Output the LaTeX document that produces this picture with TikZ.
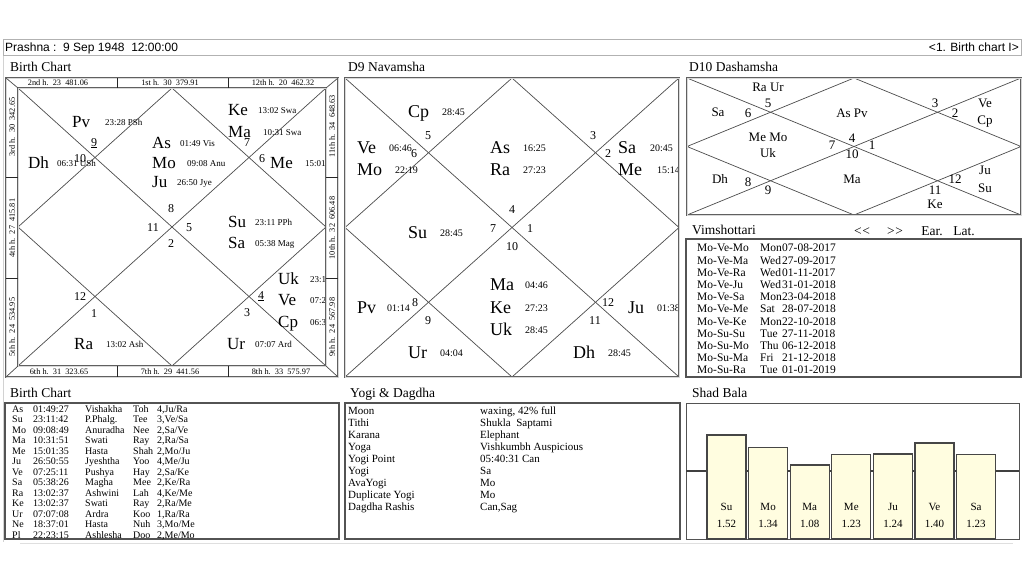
\documentclass[tikz,border=0pt]{standalone}
\usepackage{fontspec}
\setmainfont{Liberation Serif}
\newfontfamily\uisans{Liberation Sans}
\tikzset{
 txt/.style={inner sep=0pt, text depth=0pt},
 ttl/.style={txt, anchor=west, font=\fontsize{13.5}{14}\selectfont, text height=8.9pt},
 bpl/.style={txt, anchor=west, font=\fontsize{17}{17}\selectfont, text height=11.2pt},
 bdt/.style={txt, anchor=west, font=\fontsize{9}{9}\selectfont, text height=6pt},
 hno/.style={txt, font=\fontsize{12}{12}\selectfont, text height=8pt},
 dpl/.style={txt, anchor=west, font=\fontsize{18}{18}\selectfont, text height=11.9pt},
 ddt/.style={txt, anchor=west, font=\fontsize{10}{10}\selectfont, text height=6.7pt},
 tpl/.style={txt, font=\fontsize{13}{13}\selectfont, text height=8.6pt},
 strip/.style={txt, font=\fontsize{8.3}{8.3}\selectfont, text height=5.6pt},
 tbl/.style={txt, anchor=west, font=\fontsize{10}{10}\selectfont, text height=6.6pt},
 vim/.style={txt, anchor=west, font=\fontsize{11.5}{11.5}\selectfont, text height=7.6pt},
 ygi/.style={txt, anchor=west, font=\fontsize{11}{11}\selectfont, text height=7.3pt},
 sbl/.style={txt, font=\fontsize{11}{11}\selectfont, text height=7.3pt},
 bar0/.style={txt, anchor=west, font=\uisans\fontsize{12}{12}\selectfont, text height=8.6pt},
 chartline/.style={draw=black!70, line width=0.7pt},
 divline/.style={draw=black!85, line width=0.7pt},
 frametwo/.style={draw=gray!75!black, double=gray!30, double distance=0.8pt, line width=0.8pt},
 boxln/.style={draw=gray!65!black, line width=1.2pt},
 sbar/.style={draw=gray!55!black, line width=1.3pt, fill=yellow!12},
}
\newcommand\bpt[6]{\node[bpl] (#1) at (#2,#3) {#4};\node[bdt] (#1d) at (#5,#3) {#6};}
\newcommand\dpt[6]{\node[dpl] (#1) at (#2,#3) {#4};\node[ddt] (#1d) at (#5,#3) {#6};}
\newcommand\bcrow[6]{%
 \node[tbl] (bt#1a) at (12,{409+10.5*#1}) {#2};
 \node[tbl] (bt#1b) at (33,{409+10.5*#1}) {#3};
 \node[tbl] (bt#1c) at (85,{409+10.5*#1}) {#4};
 \node[tbl] (bt#1d) at (133,{409+10.5*#1}) {#5};
 \node[tbl] (bt#1e) at (157,{409+10.5*#1}) {#6};}
\newcommand\vrow[4]{%
 \node[vim] (vr#1a) at (697,{248+12.2*#1}) {#2};
 \node[vim] (vr#1b) at (760,{248+12.2*#1}) {#3};
 \node[vim] (vr#1c) at (782,{248+12.2*#1}) {#4};}
\newcommand\yrow[3]{%
 \node[ygi] (yr#1a) at (348,{411+12*#1}) {#2};
 \node[ygi] (yr#1b) at (480,{411+12*#1}) {#3};}
\begin{document}
\begin{tikzpicture}[x=1pt,y=-1pt]
\useasboundingbox[fill=white] (0,0) rectangle (1024,576);
% window frame
\draw[gray!35, line width=0.8pt] (3,56) -- (3,542);
\draw[gray!25, line width=0.8pt] (20,543) -- (1013,543);
% top bar
\draw[draw=gray!60, line width=0.8pt] (3,39.5) rectangle (1021,55.5);
\node[bar0] (prashna) at (5,47.5) {Prashna :\ \ 9 Sep 1948\ \ 12:00:00};
\node[bar0, anchor=east] (chartsel) at (1019,47.5) {<1. Birth chart I>};

% ================= Birth chart =================
\node[ttl] (bctitle) at (10,67) {Birth Chart};
\begin{scope}
\clip (6,78) rectangle (326,377);
\draw[chartline] (18,88) -- (326,366);
\draw[chartline] (326,88) -- (18,366);
\draw[chartline] (172,88) -- (326,227) -- (172,366) -- (18,227) -- cycle;
\bpt{bPv}{72}{122}{Pv}{105}{23:28 PSh}
\bpt{bDh}{28}{163}{Dh}{57}{06:31 USh}
\bpt{bAs}{152}{143}{As}{180}{01:49 Vis}
\bpt{bMo}{152}{163}{Mo}{187}{09:08 Anu}
\bpt{bJu}{152}{182}{Ju}{177}{26:50 Jye}
\bpt{bKe}{228}{110}{Ke}{258}{13:02 Swa}
\bpt{bMa}{228}{132}{Ma}{263}{10:31 Swa}
\bpt{bMe}{270}{163}{Me}{305}{15:01}
\bpt{bSu}{228}{222}{Su}{255}{23:11 PPh}
\bpt{bSa}{228}{243}{Sa}{255}{05:38 Mag}
\bpt{bUk}{278}{279}{Uk}{310}{23:1}
\bpt{bVe}{278}{300}{Ve}{310}{07:25}
\bpt{bCp}{278}{322}{Cp}{310}{06:3}
\bpt{bRa}{74}{344}{Ra}{106}{13:02 Ash}
\bpt{bUr}{227}{344}{Ur}{255}{07:07 Ard}
\node[hno] (bh9) at (94,142) {\underline{9}};
\node[hno] (bh10) at (80,158) {10};
\node[hno] (bh7) at (247,142) {7};
\node[hno] (bh6) at (262,158) {6};
\node[hno] (bh8) at (171,208) {8};
\node[hno] (bh11) at (153,227) {11};
\node[hno] (bh5) at (189,227) {5};
\node[hno] (bh2) at (171,243) {2};
\node[hno] (bh12) at (80,296) {12};
\node[hno] (bh1) at (94,313) {1};
\node[hno] (bh4) at (261,295) {\underline{4}};
\node[hno] (bh3) at (247,312) {3};
\end{scope}
% strips
\fill[white] (326,88) rectangle (337,366);
\draw[frametwo] (6,78) rectangle (338,377);
\draw[frametwo] (18,88) rectangle (326,366);
\draw[chartline] (6,78) -- (18,88);
\draw[chartline] (338,78) -- (326,88);
\draw[chartline] (6,377) -- (18,366);
\draw[chartline] (338,377) -- (326,366);
\draw[divline] (117,78) -- (117,88) (228,78) -- (228,88);
\draw[divline] (117,366) -- (117,377) (228,366) -- (228,377);
\draw[divline] (6,177) -- (18,177) (6,278) -- (18,278);
\draw[divline] (326,177) -- (338,177) (326,278) -- (338,278);
\node[strip] (s2) at (58,83) {2nd h.\ \ 23\ \ 481.06};
\node[strip] (s1) at (170,83) {1st h.\ \ 30\ \ 379.91};
\node[strip] (s12) at (283,83) {12th h.\ \ 20\ \ 462.32};
\node[strip] (s6) at (59,371.5) {6th h.\ \ 31\ \ 323.65};
\node[strip] (s7) at (170,371.5) {7th h.\ \ 29\ \ 441.56};
\node[strip] (s8) at (281,371.5) {8th h.\ \ 33\ \ 575.97};
\node[strip, rotate=90] (s3) at (12,127) {3rd h.\ \ 30\ \ 342.65};
\node[strip, rotate=90] (s4) at (12,228) {4th h.\ \ 27\ \ 415.81};
\node[strip, rotate=90] (s5) at (12,327) {5th h.\ \ 24\ \ 534.95};
\node[strip, rotate=90] (s11) at (332,126) {11th h.\ \ 34\ \ 648.63};
\node[strip, rotate=90] (s10) at (332,228) {10th h.\ \ 32\ \ 606.48};
\node[strip, rotate=90] (s9) at (332,327) {9th h.\ \ 24\ \ 567.98};

% ================= D9 =================
\node[ttl] (d9title) at (348,67) {D9 Navamsha};
\begin{scope}
\clip (345,78) rectangle (679,377);
\draw[chartline] (345,78) -- (679,377);
\draw[chartline] (679,78) -- (345,377);
\draw[chartline] (512,78) -- (679,227.5) -- (512,377) -- (345,227.5) -- cycle;
\dpt{nCp}{408}{112}{Cp}{442}{28:45}
\dpt{nVe}{357}{148}{Ve}{389}{06:46}
\dpt{nMo}{357}{170}{Mo}{395}{22:19}
\dpt{nAs}{490}{148}{As}{523}{16:25}
\dpt{nRa}{490}{170}{Ra}{523}{27:23}
\dpt{nSa}{618}{148}{Sa}{650}{20:45}
\dpt{nMe}{618}{170}{Me}{657}{15:14}
\dpt{nSu}{408}{233}{Su}{440}{28:45}
\dpt{nMa}{490}{285}{Ma}{525}{04:46}
\dpt{nKe}{490}{308}{Ke}{525}{27:23}
\dpt{nUk}{490}{330}{Uk}{525}{28:45}
\dpt{nPv}{357}{308}{Pv}{387}{01:14}
\dpt{nJu}{628}{308}{Ju}{657}{01:38}
\dpt{nUr}{408}{353}{Ur}{440}{04:04}
\dpt{nDh}{573}{353}{Dh}{608}{28:45}
\node[hno] (nh5) at (428,135) {5};
\node[hno] (nh6) at (414,153) {6};
\node[hno] (nh3) at (593,135) {3};
\node[hno] (nh2) at (608,153) {2};
\node[hno] (nh4) at (512,209) {4};
\node[hno] (nh7) at (493,228) {7};
\node[hno] (nh1) at (530,228) {1};
\node[hno] (nh10) at (512,246) {10};
\node[hno] (nh8) at (415,302) {8};
\node[hno] (nh9) at (428,320) {9};
\node[hno] (nh12) at (608,302) {12};
\node[hno] (nh11) at (595,320) {11};
\end{scope}
\draw[frametwo] (345,78) rectangle (679,377);

% ================= D10 =================
\node[ttl] (d10title) at (689,67) {D10 Dashamsha};
\draw[chartline] (687,78) -- (1021,215);
\draw[chartline] (1021,78) -- (687,215);
\draw[chartline] (854,78) -- (1021,146.5) -- (854,215) -- (687,146.5) -- cycle;
\draw[frametwo] (687,78) rectangle (1021,215);
\node[tpl] (tRaUr) at (768,87) {Ra Ur};
\node[tpl] (t5) at (768,103) {5};
\node[tpl] (tSa) at (718,112) {Sa};
\node[tpl] (t6) at (748,113) {6};
\node[tpl] (tAsPv) at (852,113) {As Pv};
\node[tpl] (t3) at (935,103) {3};
\node[tpl] (t2) at (955,113) {2};
\node[tpl] (tVe) at (985,103) {Ve};
\node[tpl] (tCp) at (985,120) {Cp};
\node[tpl] (tMeMo) at (768,137) {Me Mo};
\node[tpl] (tUk) at (768,153) {Uk};
\node[tpl] (t4) at (852,138) {4};
\node[tpl] (t7) at (832,145) {7};
\node[tpl] (t1) at (872,145) {1};
\node[tpl] (t10) at (852,154) {10};
\node[tpl] (tDh) at (720,179) {Dh};
\node[tpl] (t8) at (748,182) {8};
\node[tpl] (t9) at (768,190) {9};
\node[tpl] (tMa) at (852,179) {Ma};
\node[tpl] (t11) at (935,190) {11};
\node[tpl] (t12) at (955,179) {12};
\node[tpl] (tJu) at (985,170) {Ju};
\node[tpl] (tSu) at (985,188) {Su};
\node[tpl] (tKe) at (935,204) {Ke};

% ================= Vimshottari =================
\node[ttl] (vimh) at (692,230) {Vimshottari};
\node[ttl, anchor=center] (vprev) at (862,231) {<\kern0.5pt<};
\node[ttl, anchor=center] (vnext) at (895,231) {>\kern0.5pt>};
\node[ttl, anchor=center] (vear) at (932,231) {Ear.};
\node[ttl, anchor=center] (vlat) at (964,231) {Lat.};
\draw[boxln] (686,239) rectangle (1021,377);
\vrow{0}{Mo-Ve-Mo}{Mon}{07-08-2017}
\vrow{1}{Mo-Ve-Ma}{Wed}{27-09-2017}
\vrow{2}{Mo-Ve-Ra}{Wed}{01-11-2017}
\vrow{3}{Mo-Ve-Ju}{Wed}{31-01-2018}
\vrow{4}{Mo-Ve-Sa}{Mon}{23-04-2018}
\vrow{5}{Mo-Ve-Me}{Sat}{28-07-2018}
\vrow{6}{Mo-Ve-Ke}{Mon}{22-10-2018}
\vrow{7}{Mo-Su-Su}{Tue}{27-11-2018}
\vrow{8}{Mo-Su-Mo}{Thu}{06-12-2018}
\vrow{9}{Mo-Su-Ma}{Fri}{21-12-2018}
\vrow{10}{Mo-Su-Ra}{Tue}{01-01-2019}

% ================= Birth chart table =================
\node[ttl] (bttitle) at (10,393) {Birth Chart};
\draw[boxln] (5,403) rectangle (339,539);
\bcrow{0}{As}{01:49:27}{Vishakha}{Toh}{4,Ju/Ra}
\bcrow{1}{Su}{23:11:42}{P.Phalg.}{Tee}{3,Ve/Sa}
\bcrow{2}{Mo}{09:08:49}{Anuradha}{Nee}{2,Sa/Ve}
\bcrow{3}{Ma}{10:31:51}{Swati}{Ray}{2,Ra/Sa}
\bcrow{4}{Me}{15:01:35}{Hasta}{Shah}{2,Mo/Ju}
\bcrow{5}{Ju}{26:50:55}{Jyeshtha}{Yoo}{4,Me/Ju}
\bcrow{6}{Ve}{07:25:11}{Pushya}{Hay}{2,Sa/Ke}
\bcrow{7}{Sa}{05:38:26}{Magha}{Mee}{2,Ke/Ra}
\bcrow{8}{Ra}{13:02:37}{Ashwini}{Lah}{4,Ke/Me}
\bcrow{9}{Ke}{13:02:37}{Swati}{Ray}{2,Ra/Me}
\bcrow{10}{Ur}{07:07:08}{Ardra}{Koo}{1,Ra/Ra}
\bcrow{11}{Ne}{18:37:01}{Hasta}{Nuh}{3,Mo/Me}
\bcrow{12}{Pl}{22:23:15}{Ashlesha}{Doo}{2,Me/Mo}

% ================= Yogi & Dagdha =================
\node[ttl] (ytitle) at (350,393) {Yogi \& Dagdha};
\draw[boxln] (345,403) rectangle (680,539);
\yrow{0}{Moon}{waxing, 42\% full}
\yrow{1}{Tithi}{Shukla\ \ Saptami}
\yrow{2}{Karana}{Elephant}
\yrow{3}{Yoga}{Vishkumbh Auspicious}
\yrow{4}{Yogi Point}{05:40:31 Can}
\yrow{5}{Yogi}{Sa}
\yrow{6}{AvaYogi}{Mo}
\yrow{7}{Duplicate Yogi}{Mo}
\yrow{8}{Dagdha Rashis}{Can,Sag}

% ================= Shad Bala =================
\node[ttl] (sbtitle) at (692,393) {Shad Bala};
\draw[draw=gray!65!black, line width=1pt] (686,403) rectangle (1019,539);
\draw[draw=black!75, line width=1.6pt] (686,471) -- (1019,471);
\foreach \nm/\vl [count=\i from 0] in {Su/1.52,Mo/1.34,Ma/1.08,Me/1.23,Ju/1.24,Ve/1.40,Sa/1.23}{
  \pgfmathsetmacro\bx{707+41.6*\i}
  \draw[sbar] (\bx,539) rectangle ({\bx+39},{539-68.5*\vl});
  \node[sbl] (sbn\i) at ({\bx+19.5},507) {\nm};
  \node[sbl] (sbv\i) at ({\bx+19.5},524) {\vl};
}
\end{tikzpicture}
\end{document}
